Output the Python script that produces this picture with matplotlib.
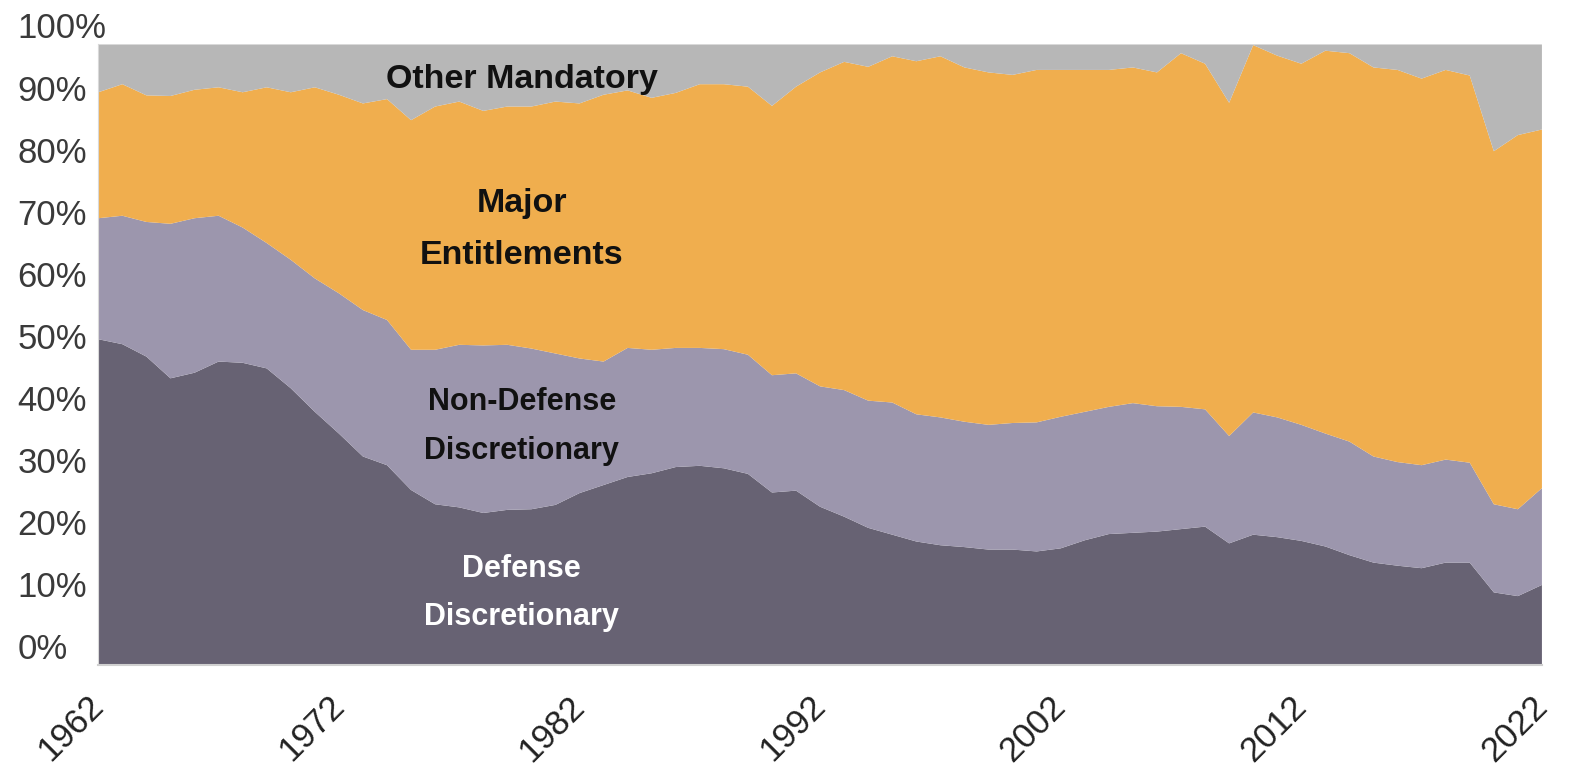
import matplotlib
matplotlib.use("Agg")

import numpy as np
import matplotlib.pyplot as plt
import matplotlib.transforms as mtransforms

plt.rcParams['font.family'] = ['Liberation Sans', 'DejaVu Sans']

years = list(range(1962, 2023))

# shares of spending (%), bottom to top
defense = [52.5, 51.7, 49.7, 46.2, 47.1, 48.9, 48.7, 47.8, 44.6, 40.8,
           37.3, 33.6, 32.2, 28.2, 25.9, 25.4, 24.5, 25.0, 25.1, 25.8,
           27.7, 29.0, 30.3, 30.9, 31.9, 32.1, 31.7, 30.8, 27.8, 28.1,
           25.5, 23.9, 22.1, 21.0, 19.9, 19.3, 19.0, 18.6, 18.6, 18.3,
           18.8, 20.1, 21.1, 21.3, 21.5, 21.9, 22.3, 19.6, 21.0, 20.6,
           20.0, 19.1, 17.7, 16.5, 16.0, 15.6, 16.5, 16.5, 11.7, 11.1, 12.9]
non_defense = [19.5, 20.7, 21.7, 24.9, 24.9, 23.5, 21.8, 20.2, 20.7, 21.5,
               22.6, 23.6, 23.4, 22.6, 24.9, 26.2, 27.0, 26.6, 25.9, 24.4,
               21.7, 19.9, 20.8, 19.9, 19.2, 19.0, 19.2, 19.2, 18.9, 18.9,
               19.4, 20.4, 20.5, 21.3, 20.5, 20.6, 20.2, 20.1, 20.4, 20.8,
               21.2, 20.7, 20.5, 20.9, 20.2, 19.7, 18.9, 17.3, 19.7, 19.3,
               18.7, 18.2, 18.3, 17.1, 16.7, 16.6, 16.6, 16.1, 14.2, 14.0, 15.6]
entitlements = [20.3, 21.2, 20.4, 20.6, 20.7, 20.7, 21.8, 25.1, 27.0, 30.8,
                32.0, 33.3, 35.6, 37.0, 39.2, 39.2, 37.8, 38.4, 39.0, 40.6,
                41.1, 43.0, 41.5, 40.6, 41.1, 42.5, 42.7, 43.2, 43.4, 46.2,
                50.6, 52.9, 53.8, 55.8, 56.9, 58.2, 57.1, 56.8, 56.1, 56.8,
                55.9, 55.1, 54.3, 54.1, 53.8, 57.0, 55.7, 53.7, 59.2, 58.3,
                58.2, 61.7, 62.6, 62.7, 63.2, 62.3, 62.8, 62.4, 56.9, 60.3, 57.8]
other_mandatory = [7.7, 6.4, 8.2, 8.3, 7.3, 6.9, 7.7, 6.9, 7.7, 6.9,
                   8.1, 9.5, 8.8, 12.2, 10.0, 9.2, 10.7, 10.0, 10.0, 9.2,
                   9.5, 8.1, 7.4, 8.6, 7.8, 6.4, 6.4, 6.8, 9.9, 6.8,
                   4.5, 2.8, 3.6, 1.9, 2.7, 1.9, 3.7, 4.5, 4.9, 4.1,
                   4.1, 4.1, 4.1, 3.7, 4.5, 1.4, 3.1, 9.4, 0.1, 1.8,
                   3.1, 1.0, 1.4, 3.7, 4.1, 5.5, 4.1, 5.0, 17.2, 14.6, 13.7]

colors = ['#676273', '#9C96AD', '#F0AE4E', '#B7B7B7']
tick_years = [1962, 1972, 1982, 1992, 2002, 2012, 2022]

fig = plt.figure(figsize=(15.75, 7.67), dpi=100)
ax = fig.add_axes([0.0624, 0.133, 0.9166, 0.809])

ax.stackplot(years, defense, non_defense, entitlements, other_mandatory,
             colors=colors, linewidth=0)

ax.set_xlim(1962, 2022)
ax.set_ylim(0, 100)

for s in ['top', 'right']:
    ax.spines[s].set_visible(False)
ax.spines['left'].set_color('#D9D9D9')
ax.spines['bottom'].set_color('#D0D0D0')
ax.spines['bottom'].set_linewidth(1.5)

ax.set_yticks(range(0, 101, 10))
ax.set_yticklabels([f"{v}%" for v in range(0, 101, 10)])
ax.tick_params(axis='y', length=0, labelsize=25, labelcolor='#3A3A3A')
# labels in the original sit a bit above their gridline values
shift = mtransforms.ScaledTranslation(0, 19 / 100, fig.dpi_scale_trans)
for lab in ax.get_yticklabels():
    lab.set_transform(lab.get_transform() + shift)
    lab.set_horizontalalignment('left')
    lab.set_x(-0.0525)

ax.set_xticks(tick_years)
ax.set_xticklabels([str(y) for y in tick_years])
ax.tick_params(axis='x', length=0, pad=26, labelsize=25, labelcolor='#222222')
for lab in ax.get_xticklabels():
    lab.set_rotation(45)
    lab.set_rotation_mode('anchor')
    lab.set_horizontalalignment('right')
    lab.set_verticalalignment('center')

# series labels
xc = 1979.6
ax.text(xc, 94.3, "Other Mandatory", fontsize=24.5, fontweight='bold',
        ha='center', va='center', color='#111111')
ax.text(xc, 74.4, "Major", fontsize=24.5, fontweight='bold',
        ha='center', va='center', color='#111111')
ax.text(xc, 66.0, "Entitlements", fontsize=24.5, fontweight='bold',
        ha='center', va='center', color='#111111')
ax.text(xc, 42.4, "Non-Defense", fontsize=22, fontweight='bold',
        ha='center', va='center', color='#111111')
ax.text(xc, 34.5, "Discretionary", fontsize=22, fontweight='bold',
        ha='center', va='center', color='#111111')
ax.text(xc, 15.5, "Defense", fontsize=22, fontweight='bold',
        ha='center', va='center', color='white')
ax.text(xc, 7.7, "Discretionary", fontsize=22, fontweight='bold',
        ha='center', va='center', color='white')

fig.savefig("out.png", dpi=100)
